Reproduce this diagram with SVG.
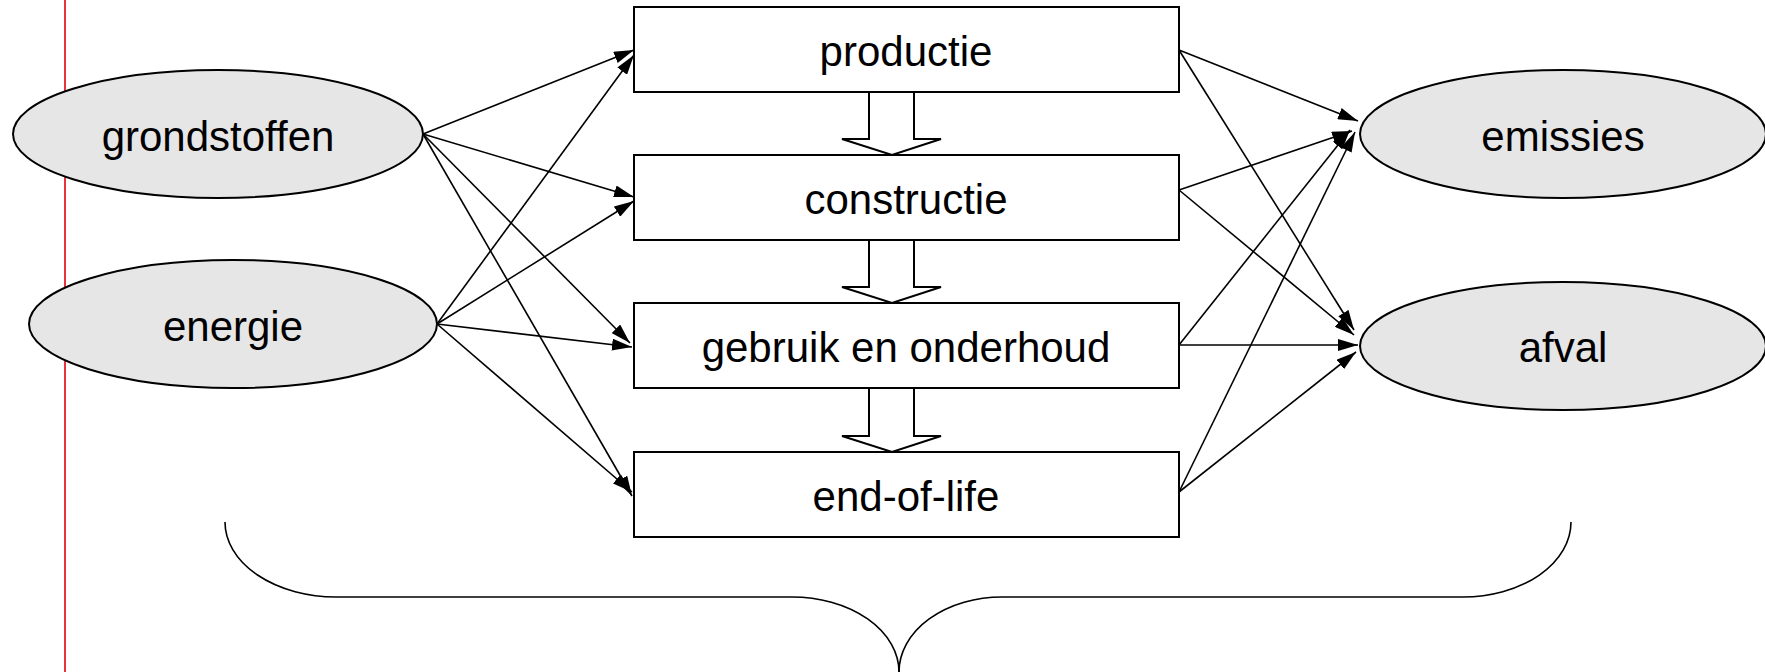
<svg xmlns="http://www.w3.org/2000/svg" width="1765" height="672" viewBox="0 0 1765 672">
<defs>
<style>
.ell{fill:#e6e6e6;stroke:#000;stroke-width:2}
.box{fill:#fff;stroke:#000;stroke-width:2}
.blk{fill:#fff;stroke:#000;stroke-width:2}
.lbl{font-family:"Liberation Sans",Arial,sans-serif;font-size:42px;fill:#000;text-anchor:middle}
.con{stroke:#000;stroke-width:1.6;fill:none;marker-end:url(#ah)}
.brace{stroke:#000;stroke-width:1.6;fill:none}
</style>
<marker id="ah" viewBox="0 0 20 12" refX="20" refY="6" markerWidth="20" markerHeight="12" markerUnits="userSpaceOnUse" orient="auto">
<path d="M0,0 L20,6 L0,12 Z" fill="#000"/>
</marker>
</defs>
<rect width="1765" height="672" fill="#fff"/>
<line x1="65" y1="0" x2="65" y2="672" stroke="#e8323c" stroke-width="2"/>
<g id="connectors">
<line class="con" x1="423" y1="134" x2="634" y2="50"/>
<line class="con" x1="423" y1="134" x2="634" y2="197"/>
<line class="con" x1="423" y1="134" x2="630" y2="343"/>
<line class="con" x1="423" y1="134" x2="632" y2="496"/>
<line class="con" x1="437" y1="324" x2="634" y2="55"/>
<line class="con" x1="437" y1="324" x2="634" y2="201"/>
<line class="con" x1="437" y1="324" x2="632" y2="347"/>
<line class="con" x1="437" y1="324" x2="632" y2="492"/>
<line class="con" x1="1179" y1="50" x2="1358" y2="121"/>
<line class="con" x1="1179" y1="50" x2="1354" y2="330"/>
<line class="con" x1="1179" y1="190" x2="1352" y2="131"/>
<line class="con" x1="1179" y1="190" x2="1354" y2="335"/>
<line class="con" x1="1179" y1="345" x2="1350" y2="130"/>
<line class="con" x1="1179" y1="345" x2="1358" y2="345"/>
<line class="con" x1="1179" y1="492" x2="1355" y2="132"/>
<line class="con" x1="1179" y1="492" x2="1356" y2="352"/>
<path class="brace" d="M225 522 A111 75 0 0 0 336 597 L792 597 A107 75 0 0 1 899 672"/>
<path class="brace" d="M1571 522 A108 75 0 0 1 1463 597 L1002 597 A103 75 0 0 0 899 672"/>
</g>
<g id="productie"><rect class="box" x="634" y="7" width="545" height="85"/><text class="lbl" x="906" y="66">productie</text></g>
<g id="constructie"><rect class="box" x="634" y="155" width="545" height="85"/><text class="lbl" x="906" y="214">constructie</text></g>
<g id="gebruik"><rect class="box" x="634" y="303" width="545" height="85"/><text class="lbl" x="906" y="362">gebruik en onderhoud</text></g>
<g id="endoflife"><rect class="box" x="634" y="452" width="545" height="85"/><text class="lbl" x="906" y="511">end-of-life</text></g>
<g id="arrow1"><polygon class="blk" points="869,92 869,139 842,139 892,155 941,139 914,139 914,92"/></g>
<g id="arrow2"><polygon class="blk" points="869,240 869,287 842,287 892,303 941,287 914,287 914,240"/></g>
<g id="arrow3"><polygon class="blk" points="869,388 869,436 842,436 892,452 941,436 914,436 914,388"/></g>
<g id="grondstoffen"><ellipse class="ell" cx="218" cy="134" rx="205" ry="64"/><text class="lbl" x="218" y="151">grondstoffen</text></g>
<g id="energie"><ellipse class="ell" cx="233" cy="324" rx="204" ry="64"/><text class="lbl" x="233" y="341">energie</text></g>
<g id="emissies"><ellipse class="ell" cx="1563" cy="134" rx="203" ry="64"/><text class="lbl" x="1563" y="151">emissies</text></g>
<g id="afval"><ellipse class="ell" cx="1563" cy="346" rx="203" ry="64"/><text class="lbl" x="1563" y="362">afval</text></g>
</svg>
